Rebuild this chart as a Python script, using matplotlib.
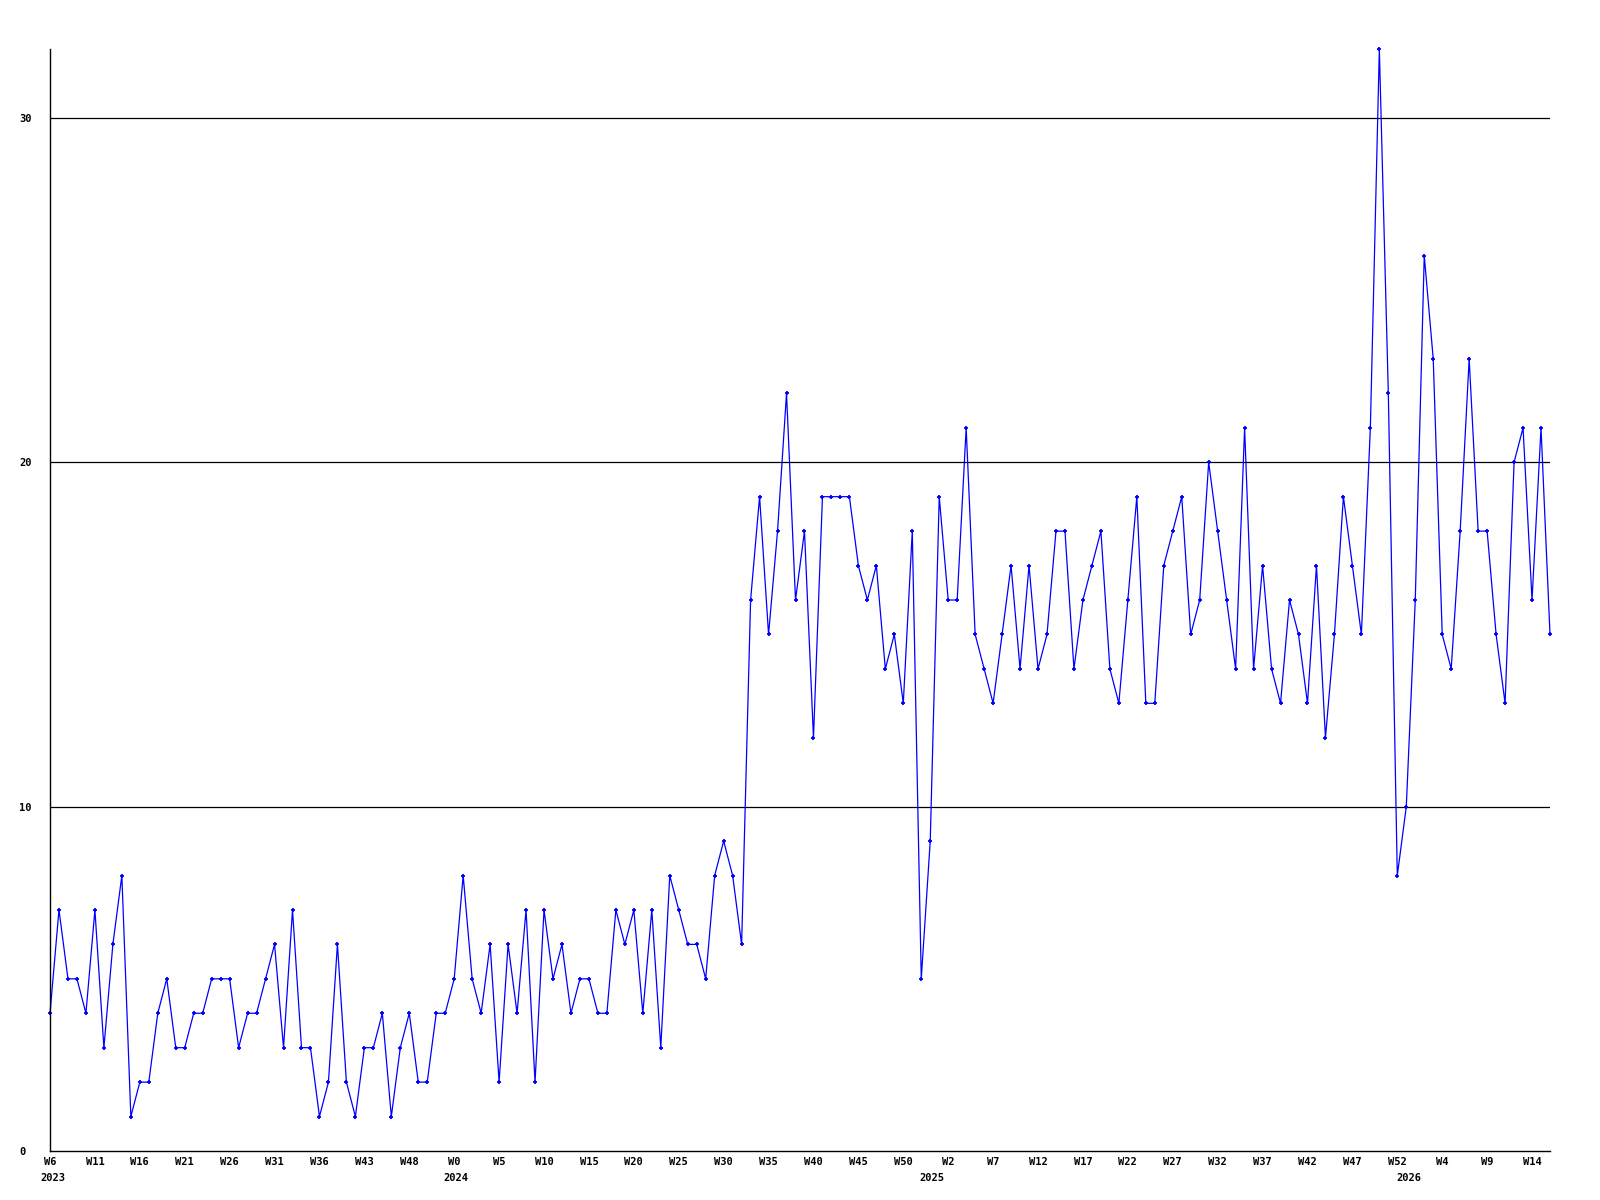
import numpy as np
import matplotlib
matplotlib.use("Agg")
import matplotlib.pyplot as plt

# weekly counts, 2023 W6 .. 2026 W15
counts = [4, 7, 5, 5, 4, 7, 3, 6, 8, 1, 2, 2, 4, 5, 3, 3, 4, 4, 5, 5,
          5, 3, 4, 4, 5, 6, 3, 7, 3, 3, 1, 2, 6, 2, 1, 3, 3, 4, 1, 3,
          4, 2, 2, 4, 4, 5, 8, 5, 4, 6, 2, 6, 4, 7, 2, 7, 5, 6, 4, 5,
          5, 4, 4, 7, 6, 7, 4, 7, 3, 8, 7, 6, 6, 5, 8, 9, 8, 6, 16, 19,
          15, 18, 22, 16, 18, 12, 19, 19, 19, 19, 17, 16, 17, 14, 15, 13, 18, 5, 9, 19,
          16, 16, 21, 15, 14, 13, 15, 17, 14, 17, 14, 15, 18, 18, 14, 16, 17, 18, 14, 13,
          16, 19, 13, 13, 17, 18, 19, 15, 16, 20, 18, 16, 14, 21, 14, 17, 14, 13, 16, 15,
          13, 17, 12, 15, 19, 17, 15, 21, 32, 22, 8, 10, 16, 26, 23, 15, 14, 18, 23, 18,
          18, 15, 13, 20, 21, 16, 21, 15]

week_labels = ["W6", "W11", "W16", "W21", "W26", "W31", "W36", "W43", "W48",
               "W0", "W5", "W10", "W15", "W20", "W25", "W30", "W35", "W40",
               "W45", "W50", "W2", "W7", "W12", "W17", "W22", "W27", "W32",
               "W37", "W42", "W47", "W52", "W4", "W9", "W14"]
label_step = 5

years = ["2023", "2024", "2025", "2026"]
year_pos = [-1.1, 43.8, 96.8, 149.9]

y_ticks = [0, 10, 20, 30]

fnt = dict(family="DejaVu Sans Mono", weight="bold", size=7.5)

x = np.arange(len(counts))

fig = plt.figure(figsize=(16, 12), dpi=100)
ax = fig.add_axes([50 / 1600, 49 / 1200, 1500 / 1600, 1102 / 1200])

ax.plot(x, counts, color="#0000ff", lw=0.9, marker="+", ms=3.2, mew=1.3,
        clip_on=False)

ax.set_xlim(0, len(counts) - 1)
ax.set_ylim(0, 32)

for v in y_ticks[1:]:
    ax.axhline(v, color="black", lw=0.9, zorder=0)

for s in ["top", "right"]:
    ax.spines[s].set_visible(False)
for s in ["left", "bottom"]:
    ax.spines[s].set_linewidth(1.0)
    ax.spines[s].set_color("black")

ax.set_yticks(y_ticks)
ax.set_yticklabels([str(v) for v in y_ticks], **fnt)
ax.tick_params(axis="y", length=0, pad=22.3)
for lbl in ax.get_yticklabels():
    lbl.set_ha("left")

ax.set_xticks(np.arange(len(week_labels)) * label_step)
ax.set_xticklabels(week_labels, **fnt)
ax.tick_params(axis="x", length=0, pad=4.5)

for yr, p in zip(years, year_pos):
    ax.annotate(yr, xy=(p, 0), xycoords=("data", "axes fraction"),
                xytext=(0, -15.5), textcoords="offset points",
                ha="left", va="top", **fnt)

fig.savefig("out.png", dpi=100, facecolor="white")
